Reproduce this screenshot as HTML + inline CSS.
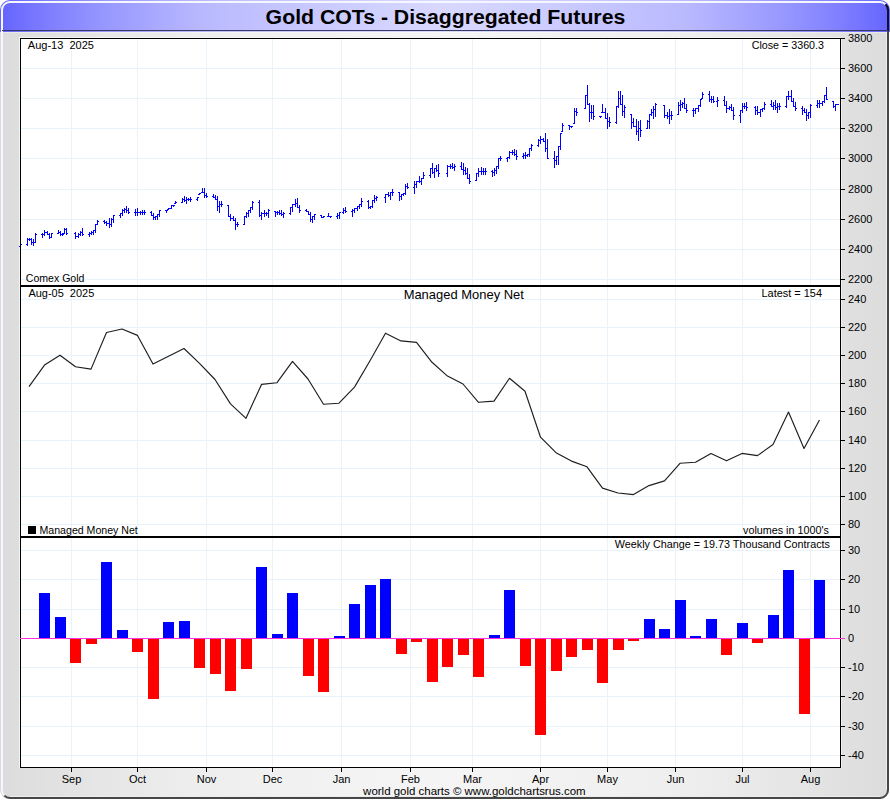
<!DOCTYPE html>
<html><head><meta charset="utf-8"><title>Gold COTs - Disaggregated Futures</title>
<style>html,body{margin:0;padding:0;background:#fff;width:890px;height:800px;overflow:hidden}svg{display:block}</style>
</head><body>
<svg width="890" height="800" viewBox="0 0 890 800" shape-rendering="crispEdges">
<defs>
<linearGradient id="tg" x1="0" y1="0" x2="1" y2="0">
<stop offset="0.0000" stop-color="#6464ff"/>
<stop offset="0.0157" stop-color="#6c6cff"/>
<stop offset="0.0584" stop-color="#8080ff"/>
<stop offset="0.1124" stop-color="#9595ff"/>
<stop offset="0.1685" stop-color="#a7a7ff"/>
<stop offset="0.2247" stop-color="#b8b8ff"/>
<stop offset="0.2809" stop-color="#c0c0ff"/>
<stop offset="0.3371" stop-color="#c7c7ff"/>
<stop offset="0.4157" stop-color="#d0d0ff"/>
<stop offset="0.5000" stop-color="#d8d8ff"/>
<stop offset="0.5843" stop-color="#d0d0ff"/>
<stop offset="0.6629" stop-color="#c7c7ff"/>
<stop offset="0.7191" stop-color="#c0c0ff"/>
<stop offset="0.7753" stop-color="#b8b8ff"/>
<stop offset="0.8315" stop-color="#a7a7ff"/>
<stop offset="0.8876" stop-color="#9595ff"/>
<stop offset="0.9416" stop-color="#8080ff"/>
<stop offset="0.9843" stop-color="#6c6cff"/>
<stop offset="1.0000" stop-color="#6464ff"/>
</linearGradient>
<linearGradient id="bg" x1="0" y1="0" x2="1" y2="0">
<stop offset="0.0000" stop-color="#dbdbdb"/>
<stop offset="0.0157" stop-color="#dddddd"/>
<stop offset="0.0584" stop-color="#e1e1e1"/>
<stop offset="0.1124" stop-color="#e6e6e6"/>
<stop offset="0.1685" stop-color="#eaeaea"/>
<stop offset="0.2247" stop-color="#eeeeee"/>
<stop offset="0.2809" stop-color="#f0f0f0"/>
<stop offset="0.3371" stop-color="#f1f1f1"/>
<stop offset="0.4157" stop-color="#f3f3f3"/>
<stop offset="0.5000" stop-color="#f5f5f5"/>
<stop offset="0.5843" stop-color="#f3f3f3"/>
<stop offset="0.6629" stop-color="#f1f1f1"/>
<stop offset="0.7191" stop-color="#f0f0f0"/>
<stop offset="0.7753" stop-color="#eeeeee"/>
<stop offset="0.8315" stop-color="#eaeaea"/>
<stop offset="0.8876" stop-color="#e6e6e6"/>
<stop offset="0.9416" stop-color="#e1e1e1"/>
<stop offset="0.9843" stop-color="#dddddd"/>
<stop offset="1.0000" stop-color="#dbdbdb"/>
</linearGradient>
<clipPath id="frame"><rect x="0" y="0" width="890" height="800" rx="10" ry="10"/></clipPath>
<clipPath id="bodyclip"><rect x="0" y="0" width="889" height="799" rx="9" ry="9"/></clipPath>
</defs>
<rect x="0" y="0" width="890" height="800" fill="#ffffff"/>
<rect x="0" y="0" width="890" height="32" fill="url(#tg)" clip-path="url(#frame)"/>
<rect x="0" y="32" width="890" height="768" fill="url(#bg)" clip-path="url(#bodyclip)"/>
<rect x="886" y="32" width="1" height="758" fill="#ececec"/>
<rect x="10" y="796" width="870" height="1" fill="#ececec"/>
<g fill="none" shape-rendering="geometricPrecision" stroke-width="2">
<path d="M4.34,795.66 A8,8 0 0 1 2,790 L2,10 A8,8 0 0 1 10,2 L880,2 A8,8 0 0 1 885.66,4.34" stroke="#f6f6ff"/>
<path d="M885.66,4.34 A8,8 0 0 1 888,10 L888,790 A8,8 0 0 1 880,798 L10,798 A8,8 0 0 1 4.34,795.66" stroke="#474747"/>
<path d="M885.66,4.34 A8,8 0 0 1 888,10 L888,31" stroke="#12122a"/>
</g>
<rect x="2" y="30" width="886" height="1" fill="#3a3a60"/>
<rect x="3" y="32" width="883" height="1" fill="#ffffff" opacity="0.35"/>

<rect x="20" y="38" width="821" height="248" fill="#ffffff"/>
<rect x="20" y="286" width="821" height="251" fill="#ffffff"/>
<rect x="20" y="537" width="821" height="231" fill="#ffffff"/>
<path d="M71.5,39V285M137.5,39V285M206.5,39V285M272.5,39V285M341.5,39V285M410.5,39V285M472.5,39V285M540.5,39V285M607.5,39V285M675.5,39V285M742.5,39V285M810.5,39V285M71.5,287V536M137.5,287V536M206.5,287V536M272.5,287V536M341.5,287V536M410.5,287V536M472.5,287V536M540.5,287V536M607.5,287V536M675.5,287V536M742.5,287V536M810.5,287V536M71.5,538V767M137.5,538V767M206.5,538V767M272.5,538V767M341.5,538V767M410.5,538V767M472.5,538V767M540.5,538V767M607.5,538V767M675.5,538V767M742.5,538V767M810.5,538V767M21,68.5H840M21,98.5H840M21,128.5H840M21,158.5H840M21,189.5H840M21,219.5H840M21,249.5H840M21,279.5H840M21,299.5H840M21,327.5H840M21,355.5H840M21,383.5H840M21,411.5H840M21,440.5H840M21,468.5H840M21,496.5H840M21,524.5H840M21,550.5H840M21,579.5H840M21,609.5H840M21,667.5H840M21,696.5H840M21,726.5H840M21,755.5H840" stroke="#e8f3fa" stroke-width="1" fill="none"/>
<path d="M21,244h1v1h-1ZM27,238h1V246h-1ZM26,244h1v1h-1ZM28,239h1v1h-1ZM29,238h1V241h-1ZM28,239h1v1h-1ZM30,239h1v1h-1ZM31,238h1V245h-1ZM30,239h1v1h-1ZM32,242h1v1h-1ZM33,239h1V246h-1ZM32,242h1v1h-1ZM34,242h1v1h-1ZM35,233h1V243h-1ZM34,242h1v1h-1ZM36,234h1v1h-1ZM42,233h1V238h-1ZM41,234h1v1h-1ZM43,234h1v1h-1ZM44,230h1V236h-1ZM43,234h1v1h-1ZM45,232h1v1h-1ZM47,231h1V235h-1ZM46,232h1v1h-1ZM48,234h1v1h-1ZM49,233h1V239h-1ZM48,234h1v1h-1ZM50,237h1v1h-1ZM51,233h1V238h-1ZM50,237h1v1h-1ZM52,233h1v1h-1ZM58,230h1V234h-1ZM57,233h1v1h-1ZM59,232h1v1h-1ZM60,231h1V236h-1ZM59,232h1v1h-1ZM61,234h1v1h-1ZM62,233h1V236h-1ZM61,234h1v1h-1ZM63,234h1v1h-1ZM64,228h1V234h-1ZM63,233h1v1h-1ZM65,229h1v1h-1ZM66,228h1V235h-1ZM65,229h1v1h-1ZM67,233h1v1h-1ZM75,232h1V239h-1ZM74,233h1v1h-1ZM76,236h1v1h-1ZM78,233h1V238h-1ZM77,236h1v1h-1ZM79,234h1v1h-1ZM80,231h1V236h-1ZM79,234h1v1h-1ZM81,232h1v1h-1ZM82,228h1V236h-1ZM81,232h1v1h-1ZM83,234h1v1h-1ZM89,232h1V237h-1ZM88,234h1v1h-1ZM90,233h1v1h-1ZM91,231h1V235h-1ZM90,233h1v1h-1ZM92,232h1v1h-1ZM93,230h1V235h-1ZM92,232h1v1h-1ZM94,230h1v1h-1ZM95,224h1V233h-1ZM94,230h1v1h-1ZM96,224h1v1h-1ZM97,220h1V225h-1ZM96,224h1v1h-1ZM98,221h1v1h-1ZM104,220h1V224h-1ZM103,221h1v1h-1ZM105,222h1v1h-1ZM106,221h1V226h-1ZM105,222h1v1h-1ZM107,223h1v1h-1ZM109,218h1V228h-1ZM108,223h1v1h-1ZM110,224h1v1h-1ZM111,218h1V227h-1ZM110,224h1v1h-1ZM112,219h1v1h-1ZM113,215h1V223h-1ZM112,219h1v1h-1ZM114,215h1v1h-1ZM120,213h1V218h-1ZM119,215h1v1h-1ZM121,213h1v1h-1ZM122,209h1V216h-1ZM121,213h1v1h-1ZM123,210h1v1h-1ZM124,208h1V213h-1ZM123,210h1v1h-1ZM125,209h1v1h-1ZM126,206h1V213h-1ZM125,209h1v1h-1ZM127,210h1v1h-1ZM128,208h1V214h-1ZM127,210h1v1h-1ZM129,212h1v1h-1ZM135,209h1V216h-1ZM134,212h1v1h-1ZM136,212h1v1h-1ZM137,208h1V216h-1ZM136,212h1v1h-1ZM138,212h1v1h-1ZM140,211h1V215h-1ZM139,212h1v1h-1ZM141,212h1v1h-1ZM142,210h1V215h-1ZM141,212h1v1h-1ZM143,212h1v1h-1ZM144,210h1V215h-1ZM143,212h1v1h-1ZM145,212h1v1h-1ZM151,211h1V216h-1ZM150,212h1v1h-1ZM152,215h1v1h-1ZM153,213h1V220h-1ZM152,215h1v1h-1ZM154,217h1v1h-1ZM155,216h1V220h-1ZM154,217h1v1h-1ZM156,216h1v1h-1ZM157,214h1V220h-1ZM156,216h1v1h-1ZM158,214h1v1h-1ZM159,210h1V217h-1ZM158,214h1v1h-1ZM160,210h1v1h-1ZM166,210h1V213h-1ZM165,210h1v1h-1ZM167,210h1v1h-1ZM168,208h1V210h-1ZM167,209h1v1h-1ZM169,208h1v1h-1ZM171,205h1V209h-1ZM170,208h1v1h-1ZM172,205h1v1h-1ZM173,205h1V207h-1ZM172,205h1v1h-1ZM174,205h1v1h-1ZM175,201h1V204h-1ZM174,203h1v1h-1ZM176,202h1v1h-1ZM182,198h1V203h-1ZM181,202h1v1h-1ZM183,199h1v1h-1ZM184,196h1V202h-1ZM183,199h1v1h-1ZM185,200h1v1h-1ZM186,197h1V204h-1ZM185,200h1v1h-1ZM187,199h1v1h-1ZM188,198h1V201h-1ZM187,199h1v1h-1ZM189,199h1v1h-1ZM190,197h1V202h-1ZM189,199h1v1h-1ZM191,199h1v1h-1ZM197,197h1V201h-1ZM196,199h1v1h-1ZM198,197h1v1h-1ZM199,193h1V195h-1ZM198,194h1v1h-1ZM200,193h1v1h-1ZM202,188h1V193h-1ZM201,192h1v1h-1ZM203,192h1v1h-1ZM204,188h1V198h-1ZM203,192h1v1h-1ZM205,195h1v1h-1ZM206,193h1V198h-1ZM205,195h1v1h-1ZM207,196h1v1h-1ZM213,194h1V198h-1ZM212,196h1v1h-1ZM214,197h1v1h-1ZM215,195h1V200h-1ZM214,197h1v1h-1ZM216,199h1v1h-1ZM217,196h1V211h-1ZM216,199h1v1h-1ZM218,206h1v1h-1ZM219,201h1V213h-1ZM218,206h1v1h-1ZM220,204h1v1h-1ZM221,201h1V207h-1ZM220,204h1v1h-1ZM222,204h1v1h-1ZM228,205h1V217h-1ZM227,205h1v1h-1ZM229,216h1v1h-1ZM230,214h1V221h-1ZM229,216h1v1h-1ZM231,218h1v1h-1ZM233,216h1V221h-1ZM232,218h1v1h-1ZM234,220h1v1h-1ZM235,218h1V230h-1ZM234,220h1v1h-1ZM236,224h1v1h-1ZM237,222h1V227h-1ZM236,224h1v1h-1ZM238,224h1v1h-1ZM244,216h1V225h-1ZM243,224h1v1h-1ZM245,216h1v1h-1ZM246,212h1V218h-1ZM245,216h1v1h-1ZM247,213h1v1h-1ZM248,210h1V217h-1ZM247,213h1v1h-1ZM249,210h1v1h-1ZM250,207h1V213h-1ZM249,210h1v1h-1ZM251,207h1v1h-1ZM252,201h1V210h-1ZM251,207h1v1h-1ZM253,202h1v1h-1ZM259,200h1V217h-1ZM258,202h1v1h-1ZM260,215h1v1h-1ZM261,212h1V220h-1ZM260,215h1v1h-1ZM262,213h1v1h-1ZM264,210h1V217h-1ZM263,213h1v1h-1ZM265,213h1v1h-1ZM266,212h1V216h-1ZM265,213h1v1h-1ZM267,213h1v1h-1ZM268,209h1V218h-1ZM267,213h1v1h-1ZM269,210h1v1h-1ZM275,211h1V217h-1ZM274,211h1v1h-1ZM276,212h1v1h-1ZM277,211h1V215h-1ZM276,212h1v1h-1ZM278,212h1v1h-1ZM279,210h1V215h-1ZM278,212h1v1h-1ZM280,213h1v1h-1ZM281,210h1V216h-1ZM280,213h1v1h-1ZM282,214h1v1h-1ZM283,212h1V218h-1ZM282,214h1v1h-1ZM284,213h1v1h-1ZM290,207h1V215h-1ZM289,213h1v1h-1ZM291,207h1v1h-1ZM292,204h1V212h-1ZM291,207h1v1h-1ZM293,204h1v1h-1ZM295,199h1V207h-1ZM294,204h1v1h-1ZM296,203h1v1h-1ZM297,198h1V208h-1ZM296,203h1v1h-1ZM298,207h1v1h-1ZM299,205h1V213h-1ZM298,207h1v1h-1ZM300,210h1v1h-1ZM306,209h1V212h-1ZM305,210h1v1h-1ZM307,211h1v1h-1ZM308,211h1V215h-1ZM307,211h1v1h-1ZM309,214h1v1h-1ZM310,212h1V222h-1ZM309,214h1v1h-1ZM311,219h1v1h-1ZM312,216h1V223h-1ZM311,219h1v1h-1ZM313,216h1v1h-1ZM314,214h1V220h-1ZM313,216h1v1h-1ZM315,214h1v1h-1ZM321,215h1V218h-1ZM320,215h1v1h-1ZM322,217h1v1h-1ZM323,216h1V218h-1ZM322,217h1v1h-1ZM324,216h1v1h-1ZM328,213h1V217h-1ZM327,216h1v1h-1ZM329,216h1v1h-1ZM330,216h1V218h-1ZM329,216h1v1h-1ZM331,216h1v1h-1ZM337,213h1V219h-1ZM336,216h1v1h-1ZM338,215h1v1h-1ZM339,212h1V219h-1ZM338,215h1v1h-1ZM340,212h1v1h-1ZM343,208h1V214h-1ZM342,212h1v1h-1ZM344,210h1v1h-1ZM345,207h1V213h-1ZM344,210h1v1h-1ZM346,211h1v1h-1ZM352,209h1V217h-1ZM351,211h1v1h-1ZM353,210h1v1h-1ZM354,208h1V213h-1ZM353,210h1v1h-1ZM355,208h1v1h-1ZM357,206h1V211h-1ZM356,208h1v1h-1ZM358,206h1v1h-1ZM359,204h1V209h-1ZM358,206h1v1h-1ZM360,204h1v1h-1ZM361,198h1V207h-1ZM360,204h1v1h-1ZM362,201h1v1h-1ZM368,200h1V209h-1ZM367,201h1v1h-1ZM369,207h1v1h-1ZM370,206h1V209h-1ZM369,207h1v1h-1ZM371,206h1v1h-1ZM372,200h1V208h-1ZM371,206h1v1h-1ZM373,200h1v1h-1ZM374,195h1V203h-1ZM373,200h1v1h-1ZM375,198h1v1h-1ZM376,196h1V201h-1ZM375,198h1v1h-1ZM377,197h1v1h-1ZM385,194h1V203h-1ZM384,197h1v1h-1ZM386,194h1v1h-1ZM388,192h1V197h-1ZM387,194h1v1h-1ZM389,195h1v1h-1ZM390,192h1V200h-1ZM389,195h1v1h-1ZM391,192h1v1h-1ZM392,189h1V196h-1ZM391,192h1v1h-1ZM393,192h1v1h-1ZM399,192h1V201h-1ZM398,192h1v1h-1ZM400,196h1v1h-1ZM401,194h1V200h-1ZM400,196h1v1h-1ZM402,194h1v1h-1ZM403,193h1V196h-1ZM402,194h1v1h-1ZM404,193h1v1h-1ZM405,184h1V195h-1ZM404,193h1v1h-1ZM406,186h1v1h-1ZM407,183h1V189h-1ZM406,186h1v1h-1ZM408,187h1v1h-1ZM414,181h1V194h-1ZM413,187h1v1h-1ZM415,184h1v1h-1ZM416,181h1V188h-1ZM415,184h1v1h-1ZM417,181h1v1h-1ZM419,176h1V183h-1ZM418,181h1v1h-1ZM420,181h1v1h-1ZM421,178h1V185h-1ZM420,181h1v1h-1ZM422,178h1v1h-1ZM423,172h1V179h-1ZM422,178h1v1h-1ZM424,175h1v1h-1ZM430,168h1V178h-1ZM429,175h1v1h-1ZM431,168h1v1h-1ZM432,163h1V174h-1ZM431,168h1v1h-1ZM433,172h1v1h-1ZM434,168h1V178h-1ZM433,172h1v1h-1ZM435,168h1v1h-1ZM436,165h1V172h-1ZM435,168h1v1h-1ZM437,170h1v1h-1ZM438,164h1V177h-1ZM437,170h1v1h-1ZM439,173h1v1h-1ZM447,165h1V177h-1ZM446,173h1v1h-1ZM448,166h1v1h-1ZM450,164h1V169h-1ZM449,166h1v1h-1ZM451,166h1v1h-1ZM452,163h1V169h-1ZM451,166h1v1h-1ZM453,167h1v1h-1ZM454,164h1V171h-1ZM453,167h1v1h-1ZM455,166h1v1h-1ZM461,162h1V170h-1ZM460,166h1v1h-1ZM462,169h1v1h-1ZM463,163h1V175h-1ZM462,169h1v1h-1ZM464,170h1v1h-1ZM465,167h1V175h-1ZM464,170h1v1h-1ZM466,173h1v1h-1ZM467,168h1V179h-1ZM466,173h1v1h-1ZM468,178h1v1h-1ZM469,174h1V184h-1ZM468,178h1v1h-1ZM470,181h1v1h-1ZM476,173h1V181h-1ZM475,180h1v1h-1ZM477,173h1v1h-1ZM478,168h1V177h-1ZM477,173h1v1h-1ZM479,171h1v1h-1ZM481,167h1V175h-1ZM480,171h1v1h-1ZM482,171h1v1h-1ZM483,168h1V175h-1ZM482,171h1v1h-1ZM484,171h1v1h-1ZM485,168h1V175h-1ZM484,171h1v1h-1ZM486,171h1v1h-1ZM492,170h1V177h-1ZM491,171h1v1h-1ZM493,172h1v1h-1ZM494,168h1V176h-1ZM493,172h1v1h-1ZM495,170h1v1h-1ZM496,166h1V174h-1ZM495,170h1v1h-1ZM497,166h1v1h-1ZM498,158h1V169h-1ZM497,166h1v1h-1ZM499,158h1v1h-1ZM500,156h1V161h-1ZM499,158h1v1h-1ZM501,158h1v1h-1ZM507,157h1V162h-1ZM506,158h1v1h-1ZM508,157h1v1h-1ZM509,151h1V159h-1ZM508,157h1v1h-1ZM510,152h1v1h-1ZM512,150h1V155h-1ZM511,152h1v1h-1ZM513,152h1v1h-1ZM514,149h1V156h-1ZM513,152h1v1h-1ZM515,154h1v1h-1ZM516,150h1V160h-1ZM515,154h1v1h-1ZM517,156h1v1h-1ZM523,153h1V159h-1ZM522,156h1v1h-1ZM524,155h1v1h-1ZM525,152h1V159h-1ZM524,155h1v1h-1ZM526,155h1v1h-1ZM527,154h1V157h-1ZM526,155h1v1h-1ZM528,154h1v1h-1ZM529,148h1V157h-1ZM528,154h1v1h-1ZM530,148h1v1h-1ZM531,144h1V151h-1ZM530,148h1v1h-1ZM532,145h1v1h-1ZM538,139h1V147h-1ZM537,145h1v1h-1ZM539,140h1v1h-1ZM540,136h1V144h-1ZM539,140h1v1h-1ZM541,139h1v1h-1ZM543,138h1V142h-1ZM542,139h1v1h-1ZM544,141h1v1h-1ZM545,133h1V152h-1ZM544,141h1v1h-1ZM546,148h1v1h-1ZM547,139h1V159h-1ZM546,148h1v1h-1ZM548,158h1v1h-1ZM554,151h1V168h-1ZM553,158h1v1h-1ZM555,160h1v1h-1ZM556,156h1V165h-1ZM555,160h1v1h-1ZM557,156h1v1h-1ZM558,146h1V165h-1ZM557,156h1v1h-1ZM559,146h1v1h-1ZM560,133h1V150h-1ZM559,146h1v1h-1ZM561,133h1v1h-1ZM562,123h1V132h-1ZM561,131h1v1h-1ZM563,125h1v1h-1ZM569,125h1V130h-1ZM568,125h1v1h-1ZM570,126h1v1h-1ZM571,126h1V128h-1ZM570,126h1v1h-1ZM572,126h1v1h-1ZM574,108h1V124h-1ZM573,123h1v1h-1ZM575,111h1v1h-1ZM576,108h1V116h-1ZM575,111h1v1h-1ZM577,112h1v1h-1ZM585,95h1V109h-1ZM584,108h1v1h-1ZM586,95h1v1h-1ZM587,85h1V105h-1ZM586,95h1v1h-1ZM588,104h1v1h-1ZM589,103h1V122h-1ZM588,104h1v1h-1ZM590,112h1v1h-1ZM591,105h1V119h-1ZM590,112h1v1h-1ZM592,112h1v1h-1ZM593,105h1V120h-1ZM592,112h1v1h-1ZM594,116h1v1h-1ZM600,116h1V118h-1ZM599,116h1v1h-1ZM601,116h1v1h-1ZM602,104h1V113h-1ZM601,112h1v1h-1ZM603,112h1v1h-1ZM605,108h1V119h-1ZM604,112h1v1h-1ZM606,118h1v1h-1ZM607,113h1V129h-1ZM606,118h1v1h-1ZM608,121h1v1h-1ZM609,117h1V127h-1ZM608,121h1v1h-1ZM610,122h1v1h-1ZM616,106h1V124h-1ZM615,122h1v1h-1ZM617,106h1v1h-1ZM618,91h1V108h-1ZM617,106h1v1h-1ZM619,98h1v1h-1ZM620,91h1V105h-1ZM619,98h1v1h-1ZM621,104h1v1h-1ZM622,95h1V116h-1ZM621,104h1v1h-1ZM623,111h1v1h-1ZM624,105h1V118h-1ZM623,111h1v1h-1ZM625,107h1v1h-1ZM631,114h1V129h-1ZM630,114h1v1h-1ZM632,122h1v1h-1ZM633,118h1V127h-1ZM632,122h1v1h-1ZM634,126h1v1h-1ZM636,119h1V135h-1ZM635,126h1v1h-1ZM637,131h1v1h-1ZM638,121h1V141h-1ZM637,131h1v1h-1ZM639,128h1v1h-1ZM640,120h1V137h-1ZM639,128h1v1h-1ZM641,130h1v1h-1ZM647,120h1V129h-1ZM646,128h1v1h-1ZM648,121h1v1h-1ZM649,114h1V129h-1ZM648,121h1v1h-1ZM650,114h1v1h-1ZM651,109h1V116h-1ZM650,114h1v1h-1ZM652,112h1v1h-1ZM653,106h1V119h-1ZM652,112h1v1h-1ZM654,109h1v1h-1ZM655,103h1V117h-1ZM654,109h1v1h-1ZM656,104h1v1h-1ZM664,105h1V118h-1ZM663,105h1v1h-1ZM665,115h1v1h-1ZM667,112h1V119h-1ZM666,115h1v1h-1ZM668,116h1v1h-1ZM669,109h1V124h-1ZM668,116h1v1h-1ZM670,115h1v1h-1ZM671,111h1V120h-1ZM670,115h1v1h-1ZM672,115h1v1h-1ZM678,102h1V115h-1ZM677,114h1v1h-1ZM679,105h1v1h-1ZM680,100h1V111h-1ZM679,105h1v1h-1ZM681,104h1v1h-1ZM682,102h1V108h-1ZM681,104h1v1h-1ZM683,103h1v1h-1ZM684,98h1V109h-1ZM683,103h1v1h-1ZM685,108h1v1h-1ZM686,104h1V113h-1ZM685,108h1v1h-1ZM687,110h1v1h-1ZM693,108h1V117h-1ZM692,110h1v1h-1ZM694,110h1v1h-1ZM695,108h1V114h-1ZM694,110h1v1h-1ZM696,108h1v1h-1ZM698,105h1V112h-1ZM697,108h1v1h-1ZM699,105h1v1h-1ZM700,99h1V107h-1ZM699,105h1v1h-1ZM701,99h1v1h-1ZM702,92h1V99h-1ZM701,98h1v1h-1ZM703,94h1v1h-1ZM709,91h1V102h-1ZM708,94h1v1h-1ZM710,99h1v1h-1ZM711,96h1V103h-1ZM710,99h1v1h-1ZM712,99h1v1h-1ZM713,96h1V103h-1ZM712,99h1v1h-1ZM714,101h1v1h-1ZM717,97h1V107h-1ZM716,101h1v1h-1ZM718,100h1v1h-1ZM724,96h1V106h-1ZM723,100h1v1h-1ZM725,105h1v1h-1ZM726,101h1V113h-1ZM725,105h1v1h-1ZM727,108h1v1h-1ZM729,106h1V110h-1ZM728,108h1v1h-1ZM730,107h1v1h-1ZM731,104h1V111h-1ZM730,107h1v1h-1ZM732,110h1v1h-1ZM733,107h1V120h-1ZM732,110h1v1h-1ZM734,115h1v1h-1ZM740,110h1V123h-1ZM739,115h1v1h-1ZM741,110h1v1h-1ZM742,103h1V113h-1ZM741,110h1v1h-1ZM743,106h1v1h-1ZM744,103h1V109h-1ZM743,106h1v1h-1ZM745,106h1v1h-1ZM746,102h1V111h-1ZM745,106h1v1h-1ZM747,107h1v1h-1ZM755,106h1V115h-1ZM754,107h1v1h-1ZM756,110h1v1h-1ZM757,106h1V115h-1ZM756,110h1v1h-1ZM758,112h1v1h-1ZM760,109h1V117h-1ZM759,112h1v1h-1ZM761,109h1v1h-1ZM762,108h1V112h-1ZM761,109h1v1h-1ZM763,108h1v1h-1ZM764,102h1V110h-1ZM763,108h1v1h-1ZM765,104h1v1h-1ZM771,100h1V107h-1ZM770,104h1v1h-1ZM772,106h1v1h-1ZM773,102h1V110h-1ZM772,106h1v1h-1ZM774,105h1v1h-1ZM775,100h1V110h-1ZM774,105h1v1h-1ZM776,107h1v1h-1ZM777,103h1V113h-1ZM776,107h1v1h-1ZM778,106h1v1h-1ZM779,103h1V110h-1ZM778,106h1v1h-1ZM780,106h1v1h-1ZM786,96h1V108h-1ZM785,106h1v1h-1ZM787,96h1v1h-1ZM788,91h1V100h-1ZM787,96h1v1h-1ZM789,96h1v1h-1ZM791,90h1V102h-1ZM790,96h1v1h-1ZM792,101h1v1h-1ZM793,98h1V107h-1ZM792,101h1v1h-1ZM794,106h1v1h-1ZM795,102h1V111h-1ZM794,106h1v1h-1ZM796,108h1v1h-1ZM802,106h1V115h-1ZM801,108h1v1h-1ZM803,110h1v1h-1ZM804,108h1V113h-1ZM803,110h1v1h-1ZM805,112h1v1h-1ZM806,109h1V121h-1ZM805,112h1v1h-1ZM807,115h1v1h-1ZM808,112h1V119h-1ZM807,115h1v1h-1ZM809,112h1v1h-1ZM810,104h1V118h-1ZM809,112h1v1h-1ZM811,105h1v1h-1ZM817,100h1V108h-1ZM816,105h1v1h-1ZM818,103h1v1h-1ZM819,100h1V108h-1ZM818,103h1v1h-1ZM820,103h1v1h-1ZM822,101h1V106h-1ZM821,103h1v1h-1ZM823,101h1v1h-1ZM824,95h1V103h-1ZM823,101h1v1h-1ZM825,95h1v1h-1ZM826,87h1V100h-1ZM825,95h1v1h-1ZM827,99h1v1h-1ZM833,101h1V108h-1ZM832,101h1v1h-1ZM834,106h1v1h-1ZM835,104h1V111h-1ZM834,106h1v1h-1ZM836,104h1v1h-1ZM837,104h1V105h-1ZM836,104h1v1h-1ZM838,104h1v1h-1Z" fill="#0000ff"/>
<polyline points="29.0,386.6 44.5,365.1 60.0,355.2 75.5,366.8 91.0,369.1 106.5,332.5 122.0,329.0 137.5,335.4 153.0,364.1 168.5,356.3 184.0,348.5 199.5,363.3 215.0,379.5 230.5,403.9 246.0,418.3 261.5,384.4 277.0,382.7 292.5,361.4 308.0,379.0 323.5,404.2 339.0,403.2 354.5,387.1 370.0,360.7 385.5,333.2 401.0,340.9 416.5,342.4 432.0,362.3 447.5,376.1 463.0,384.0 478.5,402.3 494.0,401.1 509.5,378.3 525.0,391.2 540.5,437.2 556.0,452.7 571.5,461.1 587.0,466.8 602.5,488.1 618.0,493.0 633.5,494.6 649.0,485.6 664.5,480.9 680.0,463.3 695.5,462.3 711.0,453.4 726.5,460.8 742.0,453.4 757.5,455.6 773.0,444.5 788.5,412.1 804.0,448.5 819.5,420.0" fill="none" stroke="#1e1e1e" stroke-width="1.15" stroke-linejoin="round" shape-rendering="geometricPrecision"/>
<path d="M39,593h11v45h-11ZM55,617h11v21h-11ZM101,562h11v76h-11ZM117,630h11v8h-11ZM163,622h11v16h-11ZM179,621h11v17h-11ZM256,567h11v71h-11ZM272,634h11v4h-11ZM287,593h11v45h-11ZM334,636h11v2h-11ZM349,604h11v34h-11ZM365,585h11v53h-11ZM380,579h11v59h-11ZM489,635h11v3h-11ZM504,590h11v48h-11ZM644,619h11v19h-11ZM659,629h11v9h-11ZM675,600h11v38h-11ZM690,636h11v2h-11ZM706,619h11v19h-11ZM737,623h11v15h-11ZM768,615h11v23h-11ZM783,570h11v68h-11ZM814,580h11v58h-11Z" fill="#0000ff"/>
<path d="M70,638h11v25h-11ZM86,638h11v6h-11ZM132,638h11v14h-11ZM148,638h11v61h-11ZM194,638h11v30h-11ZM210,638h11v36h-11ZM225,638h11v53h-11ZM241,638h11v31h-11ZM303,638h11v38h-11ZM318,638h11v54h-11ZM396,638h11v16h-11ZM411,638h11v4h-11ZM427,638h11v44h-11ZM442,638h11v29h-11ZM458,638h11v17h-11ZM473,638h11v39h-11ZM520,638h11v28h-11ZM535,638h11v97h-11ZM551,638h11v33h-11ZM566,638h11v19h-11ZM582,638h11v12h-11ZM597,638h11v45h-11ZM613,638h11v12h-11ZM628,638h11v3h-11ZM721,638h11v17h-11ZM752,638h11v5h-11ZM799,638h11v76h-11Z" fill="#ff0000"/>
<path d="M20.5,38.5H840.5V285.5H20.5ZM20.5,286.5H840.5V536.5H20.5ZM20.5,537.5H840.5V767.5H20.5Z" stroke="#000" stroke-width="1" fill="none"/>
<rect x="19" y="37" width="1" height="731" fill="#f4f4f4"/><rect x="19" y="37" width="822" height="1" fill="#f4f4f4"/>
<rect x="841" y="38" width="1" height="730" fill="#efefef"/>
<rect x="19" y="246" width="1" height="1" fill="#0000ff"/>
<path d="M841,38.5h4M841,68.5h4M841,98.5h4M841,128.5h4M841,158.5h4M841,189.5h4M841,219.5h4M841,249.5h4M841,279.5h4M841,299.5h4M841,327.5h4M841,355.5h4M841,383.5h4M841,411.5h4M841,440.5h4M841,468.5h4M841,496.5h4M841,524.5h4M841,550.5h4M841,579.5h4M841,609.5h4M841,638.5h4M841,667.5h4M841,696.5h4M841,726.5h4M841,755.5h4M71.5,768v4M137.5,768v4M206.5,768v4M272.5,768v4M341.5,768v4M410.5,768v4M472.5,768v4M540.5,768v4M607.5,768v4M675.5,768v4M742.5,768v4M810.5,768v4" stroke="#000" stroke-width="1" fill="none"/>
<rect x="20" y="638" width="825" height="1" fill="#ff30e0"/>
<g font-family="Liberation Sans, Arial, sans-serif" font-size="11" fill="#000"><text x="848" y="42">3800</text><text x="848" y="72">3600</text><text x="848" y="102">3400</text><text x="848" y="132">3200</text><text x="848" y="162">3000</text><text x="848" y="193">2800</text><text x="848" y="223">2600</text><text x="848" y="253">2400</text><text x="848" y="283">2200</text><text x="848" y="303">240</text><text x="848" y="331">220</text><text x="848" y="359">200</text><text x="848" y="387">180</text><text x="848" y="415">160</text><text x="848" y="444">140</text><text x="848" y="472">120</text><text x="848" y="500">100</text><text x="848" y="528">80</text><text x="848" y="554">30</text><text x="848" y="583">20</text><text x="848" y="613">10</text><text x="848" y="642">0</text><text x="848" y="671">-10</text><text x="848" y="700">-20</text><text x="848" y="730">-30</text><text x="848" y="759">-40</text></g>
<g font-family="Liberation Sans, Arial, sans-serif" font-size="11" fill="#000"><text x="71.5" y="783" text-anchor="middle">Sep</text><text x="137.5" y="783" text-anchor="middle">Oct</text><text x="206.5" y="783" text-anchor="middle">Nov</text><text x="272.5" y="783" text-anchor="middle">Dec</text><text x="341.5" y="783" text-anchor="middle">Jan</text><text x="410.5" y="783" text-anchor="middle">Feb</text><text x="472.5" y="783" text-anchor="middle">Mar</text><text x="540.5" y="783" text-anchor="middle">Apr</text><text x="607.5" y="783" text-anchor="middle">May</text><text x="675.5" y="783" text-anchor="middle">Jun</text><text x="742.5" y="783" text-anchor="middle">Jul</text><text x="810.5" y="783" text-anchor="middle">Aug</text></g>
<g font-family="Liberation Sans, Arial, sans-serif" style="white-space:pre"><text x="265.63" y="24" font-size="20" font-weight="bold" textLength="359.64" lengthAdjust="spacingAndGlyphs" fill="#000">Gold COTs - Disaggregated Futures</text><text x="27.88" y="49" font-size="11" textLength="66.08" lengthAdjust="spacingAndGlyphs" fill="#000">Aug-13  2025</text><text x="751.66" y="49" font-size="11" textLength="72.31" lengthAdjust="spacingAndGlyphs" fill="#000">Close = 3360.3</text><text x="25.76" y="282" font-size="11" textLength="58.72" lengthAdjust="spacingAndGlyphs" fill="#000">Comex Gold</text><text x="28.38" y="297" font-size="11" textLength="65.88" lengthAdjust="spacingAndGlyphs" fill="#000">Aug-05  2025</text><text x="403.64" y="299" font-size="13.5" textLength="120.26" lengthAdjust="spacingAndGlyphs" fill="#000">Managed Money Net</text><text x="761.50" y="297" font-size="11" textLength="60.52" lengthAdjust="spacingAndGlyphs" fill="#000">Latest = 154</text><text x="39.53" y="534" font-size="11" textLength="98.30" lengthAdjust="spacingAndGlyphs" fill="#000">Managed Money Net</text><text x="743.06" y="534" font-size="11" textLength="85.83" lengthAdjust="spacingAndGlyphs" fill="#000">volumes in 1000&#39;s</text><text x="614.85" y="548" font-size="11" textLength="215.14" lengthAdjust="spacingAndGlyphs" fill="#000">Weekly Change = 19.73 Thousand Contracts</text><text x="363.12" y="795" font-size="11" textLength="222.54" lengthAdjust="spacingAndGlyphs" fill="#000">world gold charts © www.goldchartsrus.com</text></g>
<rect x="28" y="526" width="8" height="8" fill="#000"/>
</svg>
</body></html>
